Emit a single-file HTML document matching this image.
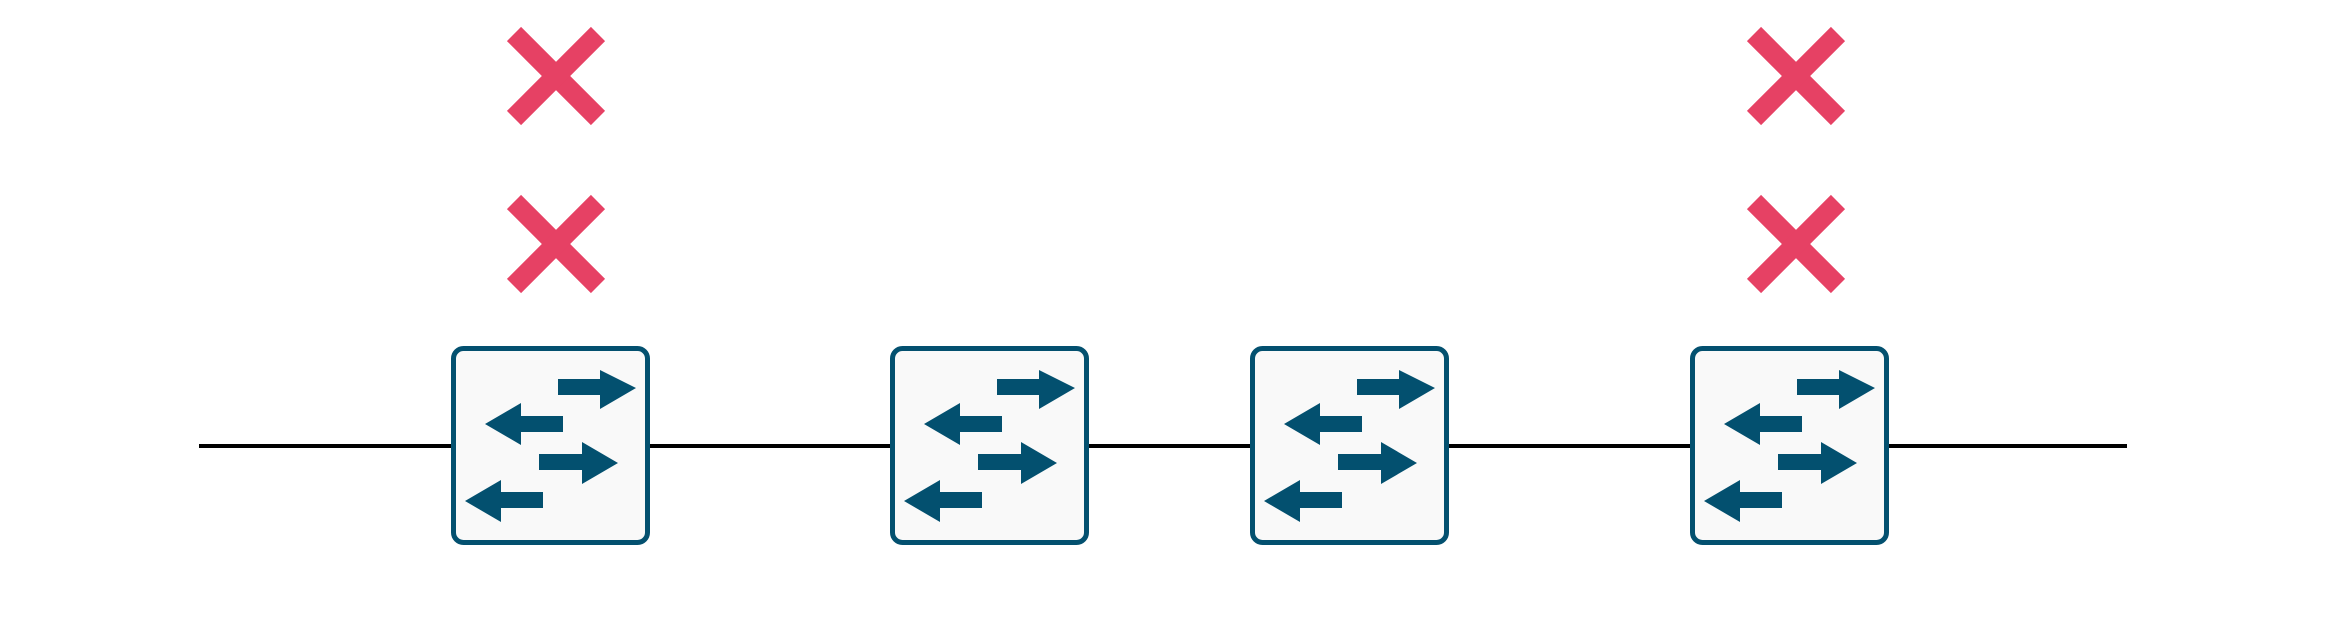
<!DOCTYPE html>
<html><head><meta charset="utf-8"><style>html,body{margin:0;padding:0;background:#fff}svg{display:block}</style></head>
<body>
<svg width="2332" height="640" viewBox="0 0 2332 640" xmlns="http://www.w3.org/2000/svg">
<defs>
<g id="sw">
<rect x="2.5" y="2.5" width="194" height="194" rx="10" ry="10" fill="#f9f9f9" stroke="#03506f" stroke-width="5"/>
<g fill="#03506f" transform="translate(0,-346)">
<polygon points="107,379 149,379 149,370 185,388 149,409 149,395 107,395"/>
<polygon points="112,416 70,416 70,403 34,424 70,445 70,432 112,432"/>
<polygon points="88,454 131,454 131,442 167,463 131,484 131,470 88,470"/>
<polygon points="92,492 50,492 50,480 14,501 50,522 50,508 92,508"/>
</g>
</g>
<g id="x" stroke="#e64164" stroke-width="20" stroke-linecap="butt">
<line x1="-42" y1="-42" x2="42" y2="42"/>
<line x1="42" y1="-42" x2="-42" y2="42"/>
</g>
</defs>
<line x1="199" y1="446" x2="2127" y2="446" stroke="#000" stroke-width="4"/>
<use href="#sw" x="451" y="346"/>
<use href="#sw" x="890" y="346"/>
<use href="#sw" x="1250" y="346"/>
<use href="#sw" x="1690" y="346"/>
<use href="#x" x="556" y="76"/>
<use href="#x" x="556" y="244"/>
<use href="#x" x="1796" y="76"/>
<use href="#x" x="1796" y="244"/>
</svg>
</body></html>
